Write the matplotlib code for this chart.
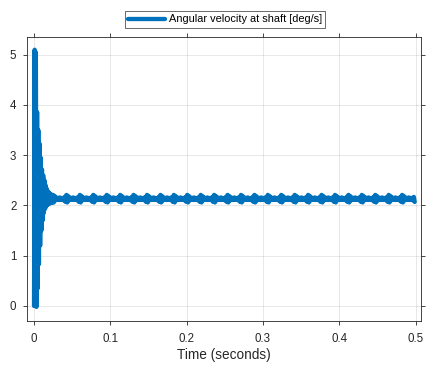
import numpy as np
import matplotlib.pyplot as plt

# start-up transient: alternating high / low samples
t_transient = [0.0000, 0.0008, 0.0016, 0.0024, 0.0032, 0.0040, 0.0048, 0.0056,
               0.0064, 0.0072, 0.0080, 0.0088, 0.0096, 0.0104, 0.0112, 0.0120,
               0.0128, 0.0136, 0.0144, 0.0152, 0.0160, 0.0168, 0.0176, 0.0184,
               0.0192, 0.0200, 0.0208, 0.0216, 0.0224, 0.0232, 0.0240]
w_transient = [0.00, 5.10, 0.00, 5.05, -0.02, 3.86, 0.35, 3.50,
               0.83, 3.23, 1.20, 2.95, 1.50, 2.72, 1.70, 2.60,
               1.85, 2.50, 1.93, 2.40, 1.98, 2.33, 2.01, 2.28,
               2.03, 2.25, 2.04, 2.23, 2.05, 2.21, 2.06]

# steady state: bursts repeat at these times, with this ripple shape after each
bump_times = [0.0248, 0.0424, 0.0600, 0.0776, 0.0952, 0.1128, 0.1304, 0.1480,
              0.1656, 0.1832, 0.2008, 0.2184, 0.2360, 0.2536, 0.2712, 0.2888,
              0.3064, 0.3240, 0.3416, 0.3592, 0.3768, 0.3944, 0.4120, 0.4296,
              0.4472, 0.4648, 0.4824]
ripple_dt = [0.0000, 0.0011, 0.0022, 0.0033, 0.0044, 0.0055, 0.0066, 0.0077,
             0.0088, 0.0099, 0.0110, 0.0121, 0.0132, 0.0143, 0.0154, 0.0165]
ripple_w = [2.21, 2.06, 2.19, 2.10, 2.16, 2.12, 2.15, 2.11,
            2.16, 2.11, 2.15, 2.11, 2.15, 2.10, 2.17, 2.07]

t = list(t_transient)
w = list(w_transient)
for b in bump_times:
    for dt, v in zip(ripple_dt, ripple_w):
        t.append(b + dt)
        w.append(v)
t = np.array(t)
w = np.array(w)

plt.rcParams['font.family'] = ['Liberation Sans', 'DejaVu Sans']
dark = (0.15, 0.15, 0.15)

fig = plt.figure(figsize=(4.26, 3.69), dpi=100)
ax = fig.add_axes([0.0627, 0.1301, 0.9256, 0.7705])
line, = ax.plot(t, w, color='#0072BD', lw=3.1, solid_joinstyle='round',
                solid_capstyle='round',
                label='Angular velocity at shaft [deg/s]')

ax.set_xlim(-0.0096, 0.5072)
ax.set_ylim(-0.3, 5.36)
ax.set_xticks([0, 0.1, 0.2, 0.3, 0.4, 0.5])
ax.set_xticklabels(['0', '0.1', '0.2', '0.3', '0.4', '0.5'])
ax.set_yticks([0, 1, 2, 3, 4, 5])
ax.grid(True, color=(0.15, 0.15, 0.15), alpha=0.12, lw=0.6)
ax.tick_params(direction='out', length=2.9, width=0.6, colors=dark,
               labelsize=8.3, top=True, right=True)
ax.tick_params(axis='x', pad=6)
ax.tick_params(axis='y', pad=4.5)
for s in ax.spines.values():
    s.set_color(dark)
    s.set_linewidth(0.6)
ax.set_xlabel('Time (seconds)', fontsize=9.8, color=dark, labelpad=2)

leg = fig.legend(handles=[line], loc='center',
                 bbox_to_anchor=(225 / 426, 1 - 19.5 / 369),
                 fontsize=7.9, frameon=True, fancybox=False,
                 handlelength=3.4, handletextpad=0.3, borderpad=0.3,
                 borderaxespad=0)
leg.get_frame().set_edgecolor(dark)
leg.get_frame().set_linewidth(0.6)

fig.savefig('out.png', dpi=100)
